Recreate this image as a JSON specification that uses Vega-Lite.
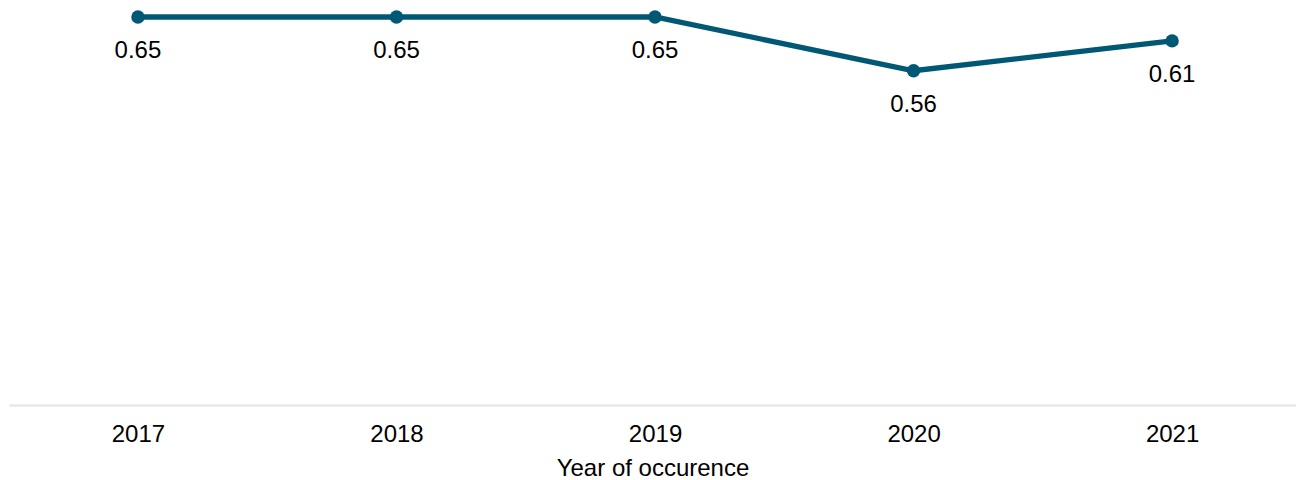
{
  "$schema": "https://vega.github.io/schema/vega-lite/v6.json",
  "width": 1287,
  "height": 388,
  "autosize": {"type": "none"},
  "padding": {"left": 9, "top": 17, "right": 0, "bottom": 75},
  "background": "white",
  "config": {
    "view": {"stroke": null},
    "font": "Liberation Sans",
    "text": {"font": "Liberation Sans"}
  },
  "data": {
    "values": [
      {"year": "2017", "value": 0.65},
      {"year": "2018", "value": 0.65},
      {"year": "2019", "value": 0.65},
      {"year": "2020", "value": 0.56},
      {"year": "2021", "value": 0.61}
    ]
  },
  "encoding": {
    "x": {
      "field": "year",
      "type": "ordinal",
      "scale": {"type": "point", "padding": 0.489, "align": 0.51},
      "axis": {
        "title": "Year of occurence",
        "labelAngle": 0,
        "labelFont": "Liberation Sans",
        "labelFontSize": 24,
        "labelColor": "#000000",
        "labelPadding": 17,
        "ticks": false,
        "domainColor": "#e1e4e8",
        "domainWidth": 2,
        "grid": false,
        "titleFont": "Liberation Sans",
        "titleFontSize": 24,
        "titleFontWeight": "normal",
        "titleColor": "#000000",
        "titlePadding": 10
      }
    },
    "y": {
      "field": "value",
      "type": "quantitative",
      "scale": {"domain": [0, 0.65], "nice": false, "zero": true},
      "axis": null
    }
  },
  "layer": [
    {
      "mark": {"type": "line", "color": "#005874", "strokeWidth": 5.3}
    },
    {
      "mark": {"type": "point", "filled": true, "color": "#005874", "size": 180, "opacity": 1}
    },
    {
      "mark": {"type": "text", "dy": 34, "baseline": "middle", "fontSize": 24, "color": "#000000", "font": "Liberation Sans"},
      "encoding": {"text": {"field": "value", "type": "quantitative", "format": ".2f"}}
    }
  ]
}
